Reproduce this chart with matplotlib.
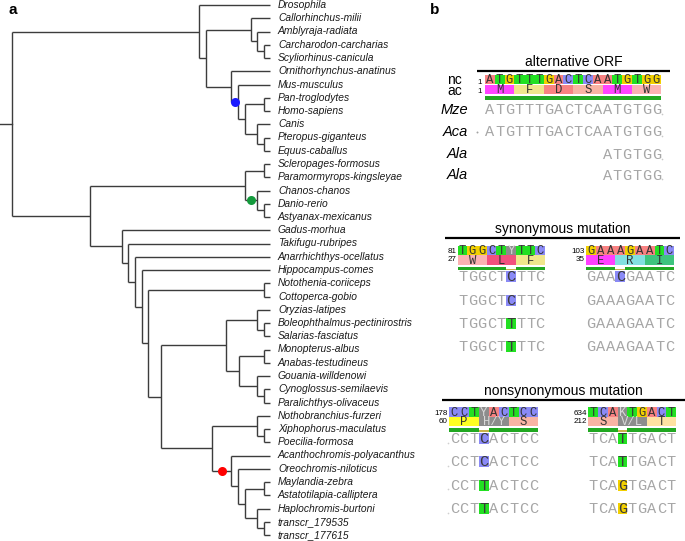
import matplotlib
matplotlib.use("Agg")
import matplotlib.pyplot as plt
from matplotlib.patches import Rectangle

# ---------------- data ----------------
# tree: (node depth, [children], dot colour on branch leading to node)
def N(depth, *children, dot=None):
    return {"d": depth, "c": list(children), "dot": dot}

tree = N(12,
    N(199, "Drosophila",
        N(205.7,
            N(250.7, "Callorhinchus-milii",
                N(257.3, "Amblyraja-radiata",
                    N(264.3, "Carcharodon-carcharias", "Scyliorhinus-canicula"))),
            N(231, "Ornithorhynchus-anatinus",
                N(238.3, "Mus-musculus",
                    N(245,
                        N(264.3, "Pan-troglodytes", "Homo-sapiens"),
                        N(257.3, "Canis",
                            N(264.3, "Pteropus-giganteus", "Equus-caballus"))),
                  dot="#1a1aff")))),
    N(90,
        N(245,
            N(264.3, "Scleropages-formosus", "Paramormyrops-kingsleyae"),
            N(257.3, "Chanos-chanos",
                N(264.3, "Danio-rerio", "Astyanax-mexicanus"), dot="#139a3c")),
        N(122.3, "Gadus-morhua",
            N(128.3, "Takifugu-rubripes",
                N(135, "Anarrhichthys-ocellatus",
                    N(141.7, "Hippocampus-comes",
                        N(147.7,
                            N(264.3, "Notothenia-coriiceps", "Cottoperca-gobio"),
                            N(160.7,
                                N(225.7,
                                    N(257.3, "Oryzias-latipes",
                                        N(264.3, "Boleophthalmus-pectinirostris", "Salarias-fasciatus")),
                                    N(239,
                                        N(264.3, "Monopterus-albus", "Anabas-testudineus"),
                                        N(257.3, "Gouania-willdenowi",
                                            N(264.3, "Cynoglossus-semilaevis", "Paralichthys-olivaceus")))),
                                N(212.3,
                                    N(257.3, "Nothobranchius-furzeri",
                                        N(264.3, "Xiphophorus-maculatus", "Poecilia-formosa")),
                                    N(231, "Acanthochromis-polyacanthus",
                                        N(238.3, "Oreochromis-niloticus",
                                            N(245,
                                                N(264.3, "Maylandia-zebra", "Astatotilapia-calliptera"),
                                                N(257.3, "Haplochromis-burtoni",
                                                    N(264.3, "transcr_179535", "transcr_177615")))),
                                      dot="#ff0000"))))))))))
tip_depth = 270

# alignment data
alt_nc = "ATGTTTGACTCAATGTGG"
alt_aa = ["M", "F", "D", "S", "M", "W"]
alt_labels = ["Mze", "Aca", "Ala", "Ala"]
alt_rows = ["ATGTTTGACTCAATGTGG", "ATGTTTGACTCAATGTGG", "ATGTGG", "ATGTGG"]
alt_row_start = [0, 0, 12, 12]

syn_l_nc, syn_l_nt0, syn_l_aa0 = "TGGCTYTTC", 81, 27
syn_l_aa = ["W", "L", "F"]
syn_l_rows = ["TGGCTCTTC", "TGGCTCTTC", "TGGCTTTTC", "TGGCTTTTC"]
syn_l_hl = [5, 5, 5, 5]
syn_r_nc, syn_r_nt0, syn_r_aa0 = "GAAAGAATC", 103, 35
syn_r_aa = ["E", "R", "I"]
syn_r_rows = ["GAACGAATC", "GAAAGAATC", "GAAAGAATC", "GAAAGAATC"]
syn_r_hl = [3, None, None, None]

non_l_nc, non_l_nt0, non_l_aa0 = "CCTYACTCC", 178, 60
non_l_aa = ["P", "H/Y", "S"]
non_l_rows = ["CCTCACTCC", "CCTCACTCC", "CCTTACTCC", "CCTTACTCC"]
non_l_hl = [3, 3, 3, 3]
non_r_nc, non_r_nt0, non_r_aa0 = "TCAKTGACT", 634, 212
non_r_aa = ["S", "V/L", "T"]
non_r_rows = ["TCATTGACT", "TCATTGACT", "TCAGTGACT", "TCAGTGACT"]
non_r_hl = [3, 3, 3, 3]

nt_colors = {"A": "#f88282", "T": "#22e022", "G": "#f2d000", "C": "#8a8af6",
             "Y": "#8c8c8c", "K": "#8c8c8c"}
aa_colors = {"M": "#ff44ff", "F": "#f0e68c", "D": "#f88282", "S": "#f9b4a4",
             "W": "#fbb2b2", "L": "#f2507e", "E": "#ff40ff", "R": "#82e0e0",
             "I": "#3ec47e", "P": "#ffff22", "H/Y": "#8c8c8c", "V/L": "#8c8c8c",
             "T": "#ffe2a2"}

# ---------------- figure ----------------
W, H = 685, 541
fig = plt.figure(figsize=(W / 100, H / 100), dpi=100)
ax = fig.add_axes([0, 0, 1, 1])
ax.set_xlim(0, W)
ax.set_ylim(H, 0)
ax.axis("off")

SANS = "Liberation Sans"
MONO = "Liberation Mono"
LC = "#3c3c3c"
LW = 1.0

# ---------------- tree ----------------
leaf_y0, leaf_dy = 5, 13.25
counter = [0]


def layout(node):
    if isinstance(node, str):
        y = leaf_y0 + counter[0] * leaf_dy
        counter[0] += 1
        ax.text(tip_depth + 8, y, node, fontsize=7.4, family=SANS, style="italic",
                va="center", ha="left", color="#1a1a1a")
        return y, tip_depth
    ys = []
    for ch in node["c"]:
        cy, cd = layout(ch)
        ys.append(cy)
        ax.plot([node["d"], cd], [cy, cy], color=LC, lw=LW, solid_capstyle="butt")
        if isinstance(ch, dict) and ch["dot"]:
            ax.plot((node["d"] + cd) / 2, cy, "o", color=ch["dot"], ms=6.5, mec="none", zorder=5)
    ax.plot([node["d"], node["d"]], [ys[0], ys[-1]], color=LC, lw=LW, solid_capstyle="butt")
    return (ys[0] + ys[-1]) / 2, node["d"]


ry, rd = layout(tree)
ax.plot([0, rd], [ry, ry], color=LC, lw=LW)

ax.text(12.5, 10, "a", fontsize=11, fontweight="bold", family=SANS, ha="center", va="center")
ax.text(435, 10, "b", fontsize=11, fontweight="bold", family=SANS, ha="center", va="center")

# ---------------- alignments ----------------
def title(x0, x1, y_text, y_line, s):
    ax.text((x0 + x1) / 2, y_text, s, fontsize=10, family=SANS, ha="center", va="center")
    ax.plot([x0, x1], [y_line, y_line], color="black", lw=1.6, solid_capstyle="butt")


def letter(x, y, s, color, size=8.8):
    ax.text(x, y, s, fontsize=size, family=MONO, ha="center", va="center", color=color)


def header(x0, cw, y_nc, y_aa, nc, aa, gap=None, nt0=None, aa0=None):
    n = len(nc)
    if nt0 is not None:
        ax.text(x0 - 1.5, (y_nc + y_aa) / 2 + 0.6, f"{nt0}\n{aa0}", fontsize=5.8, family=SANS,
                ha="right", va="center", multialignment="right", linespacing=1.18)
    for i, ch in enumerate(nc):
        ax.add_patch(Rectangle((x0 + i * cw, y_nc - 4.8), cw, 9.6, color=nt_colors[ch], lw=0))
        letter(x0 + (i + 0.5) * cw, y_nc + 0.5, ch,
               "#d8d8d8" if ch in "YK" else "#333333")
    for j, a in enumerate(aa):
        ax.add_patch(Rectangle((x0 + 3 * j * cw, y_aa - 4.6), 3 * cw, 9.2, color=aa_colors[a], lw=0))
        letter(x0 + (3 * j + 1.5) * cw, y_aa + 0.5, a,
               "#d8d8d8" if "/" in a else "#333333")
    yb = y_aa + 8.5
    if gap is None:
        ax.add_patch(Rectangle((x0, yb - 1.6), n * cw, 3.2, color="#21a821", lw=0))
    else:
        ax.add_patch(Rectangle((x0, yb - 1.6), gap * cw, 3.2, color="#21a821", lw=0))
        ax.add_patch(Rectangle((x0 + (gap + 1) * cw, yb - 1.6), (n - gap - 1) * cw, 3.2,
                               color="#21a821", lw=0))
        ax.add_patch(Rectangle((x0 + gap * cw, yb + 0.4), cw, 1.4, color="#c8b24a", lw=0))


def rows(x0, cw, ys, seqs, hls, starts=None, trail=False, lead=False):
    for r, (y, seq) in enumerate(zip(ys, seqs)):
        st = 0 if starts is None else starts[r]
        for i, ch in enumerate(seq):
            k = st + i
            hl = hls is not None and hls[r] == k
            if hl:
                ax.add_patch(Rectangle((x0 + k * cw, y - 5.5), cw, 11, color=nt_colors[ch], lw=0))
            letter(x0 + (k + 0.5) * cw, y + 0.5, ch, "#3a3a3a" if hl else "#a6a6a6", size=11)
        if trail:
            ax.plot(x0 + (st + len(seq)) * cw + 1.0, y + 4, "o", ms=1.2, color="#c8c8c8", mec="none")
        if lead:
            ax.plot(x0 - 1.0, y + 4, "o", ms=1.2, color="#d0d0d0", mec="none")


# alternative ORF
title(477, 670, 62, 71, "alternative ORF")
ax_x0, ax_cw = 485, 9.8
ax.text(462, 85.5, "nc\nac", fontsize=10, family=SANS, ha="right", va="center",
        multialignment="right", linespacing=0.76)
ax.text(480, 87, "1\n1", fontsize=5.8, family=SANS, ha="center", va="center", linespacing=1.3)
header(ax_x0, ax_cw, 79.5, 89.5, alt_nc, alt_aa)
alt_ys = [110, 131.5, 154.5, 175]
for lab, y in zip(alt_labels, alt_ys):
    ax.text(468, y, lab, fontsize=10.5, family=SANS, style="italic", ha="right", va="center")
rows(ax_x0, ax_cw, alt_ys, alt_rows, None, alt_row_start, trail=True)
ax.plot(477, alt_ys[1] + 0.5, "o", ms=1.4, color="#a2a2a2", mec="none")

# synonymous mutation
title(445, 680, 229, 238, "synonymous mutation")
syn_ys = [276.5, 300.5, 323.5, 346.5]
header(457.7, 9.7, 250.5, 260, syn_l_nc, syn_l_aa, gap=5, nt0=syn_l_nt0, aa0=syn_l_aa0)
rows(457.7, 9.7, syn_ys, syn_l_rows, syn_l_hl)
header(586, 9.8, 250.5, 260, syn_r_nc, syn_r_aa, gap=3, nt0=syn_r_nt0, aa0=syn_r_aa0)
rows(586, 9.8, syn_ys, syn_r_rows, syn_r_hl)

# nonsynonymous mutation
title(442, 685, 391, 400, "nonsynonymous mutation")
non_ys = [438.5, 461.5, 485, 508.5]
header(449.3, 9.9, 412, 421.5, non_l_nc, non_l_aa, gap=3, nt0=non_l_nt0, aa0=non_l_aa0)
rows(449.3, 9.9, non_ys, non_l_rows, non_l_hl, lead=True)
header(588.3, 9.75, 412, 421.5, non_r_nc, non_r_aa, gap=3, nt0=non_r_nt0, aa0=non_r_aa0)
rows(588.3, 9.75, non_ys, non_r_rows, non_r_hl)

fig.savefig("out.png", dpi=100)
